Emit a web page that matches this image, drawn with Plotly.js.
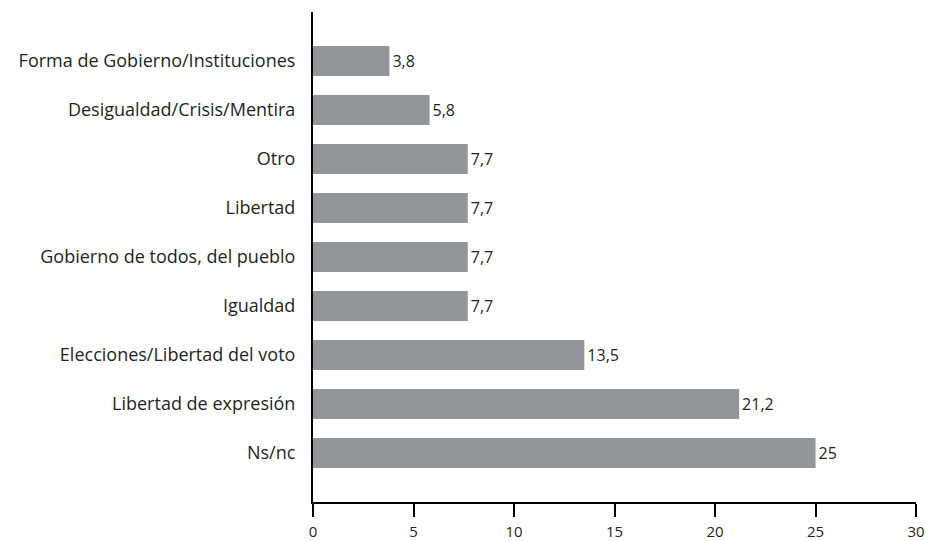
<!DOCTYPE html>
<html>
<head>
<meta charset="utf-8">
<script src="https://cdn.plot.ly/plotly-3.0.1.min.js"></script>
<style>html,body{margin:0;padding:0;background:#fff;}#chart{width:929px;height:541px;}</style>
</head>
<body>
<div id="chart"></div>
<script>
const categories = [
  "Forma de Gobierno/Instituciones",
  "Desigualdad/Crisis/Mentira",
  "Otro",
  "Libertad",
  "Gobierno de todos, del pueblo",
  "Igualdad",
  "Elecciones/Libertad del voto",
  "Libertad de expresión",
  "Ns/nc"
];
const values = [3.8, 5.8, 7.7, 7.7, 7.7, 7.7, 13.5, 21.2, 25];
const xTicks = [0, 5, 10, 15, 20, 25, 30];

const trace = {
  type: 'bar',
  orientation: 'h',
  x: values,
  y: categories,
  width: 0.61,
  marker: {color: '#939598'},
  text: values.map(v => String(v).replace('.', ',')),
  textposition: 'outside',
  cliponaxis: false,
  textfont: {family: 'Open Sans, sans-serif', size: 16, color: '#231f20'},
  hoverinfo: 'skip'
};

const layout = {
  width: 929, height: 541,
  margin: {l: 313, r: 13, t: 12, b: 39},
  paper_bgcolor: '#ffffff', plot_bgcolor: '#ffffff',
  separators: ',.',
  showlegend: false,
  font: {family: 'Open Sans, sans-serif', color: '#231f20'},
  xaxis: {
    range: [0, 30],
    tickvals: xTicks,
    ticktext: xTicks.map(String),
    showgrid: false, zeroline: false,
    showline: true, linecolor: '#000', linewidth: 2,
    ticks: 'outside', ticklen: 13, tickwidth: 2, tickcolor: '#000',
    tickfont: {size: 15, color: '#231f20'},
    ticklabelstandoff: 2
  },
  yaxis: {
    type: 'category',
    categoryorder: 'array', categoryarray: categories,
    range: [9, -1],
    showgrid: false, zeroline: false,
    showline: true, linecolor: '#000', linewidth: 2,
    ticks: '',
    tickfont: {size: 18, color: '#231f20'},
    ticklabelstandoff: 12
  }
};

Plotly.newPlot('chart', [trace], layout, {staticPlot: true, displayModeBar: false});
</script>
</body>
</html>
